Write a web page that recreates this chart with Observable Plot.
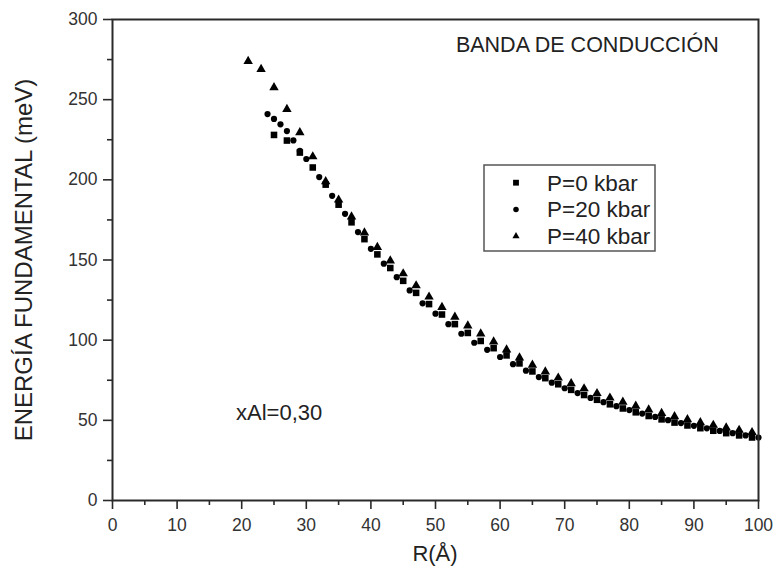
<!DOCTYPE html>
<html>
<head>
<meta charset="utf-8">
<script src="https://cdn.jsdelivr.net/npm/d3@7"></script>
<script src="https://cdn.jsdelivr.net/npm/@observablehq/plot@0.6"></script>
<style>
  html, body { margin: 0; padding: 0; background: #fff; }
</style>
</head>
<body>
<div id="chart"></div>
<script>
// P = 0 kbar (squares)
const R_p0 = [25,27,29,31,33,35,37,39,41,43,45,47,49,51,53,55,57,59,61,63,65,67,69,71,73,75,77,79,81,83,85,87,89,91,93,95,97,99];
const E_p0 = [228,224.5,217,207.7,197,184.5,173.5,163,153.5,145,137,129.5,122.5,116,110,104.5,99.5,95,90.5,85.5,80.5,76.3,72.5,69,65.8,62.8,60,57.4,55,52.7,50.6,48.6,46.8,45.1,43.5,42,40.6,39.3];
// P = 20 kbar (circles)
const R_p20 = [24,25,26,27,28,29,30,32,34,36,38,40,42,44,46,48,50,52,54,56,58,60,62,64,66,68,70,72,74,76,78,80,82,84,86,88,90,92,94,96,98,100];
const E_p20 = [241,238,234.6,230.4,224.6,218,213,201.7,190,178.8,167.4,157,147.7,139.3,131,123,116.5,110,104,98.4,94,89.5,85,81,77,73.5,70,67,64,61.3,58.8,56.4,54.2,52.1,50.1,48.3,46.6,45,43.4,42,40.6,39.3];
// P = 40 kbar (triangles)
const R_p40 = [21,23,25,27,29,31,33,35,37,39,41,43,45,47,49,51,53,55,57,59,61,63,65,67,69,71,73,75,77,79,81,83,85,87,89,91,93,95,97,99];
const E_p40 = [274,269,257.6,244,229.5,214.5,199,187.5,177,167,158,149.5,141.5,134,127,120.5,114.5,109,104,99,94,89,84.5,80.3,76.5,73,69.8,66.8,64,61.4,58.9,56.6,54.4,52.4,50.5,48.7,47,45.4,43.9,42.5];

const seriesNames = ["P=0 kbar", "P=20 kbar", "P=40 kbar"];
const xTicks = [0,10,20,30,40,50,60,70,80,90,100];
const xMinor = [5,15,25,35,45,55,65,75,85,95];
const yTicks = [0,50,100,150,200,250,300];
const yMinor = [25,75,125,175,225,275];

const toRows = (R, E) => R.map((r, i) => ({R: r, E: E[i]}));
const d0 = toRows(R_p0, E_p0);
const d20 = toRows(R_p20, E_p20);
const d40 = toRows(R_p40, E_p40);

const FONT = "'Liberation Sans', Arial, Helvetica, sans-serif";
const AX = "#2a2a2a";

const plot = Plot.plot({
  width: 775,
  height: 576,
  marginLeft: 112,
  marginRight: 17,
  marginTop: 19,
  marginBottom: 76,
  style: {fontFamily: FONT, background: "#fff", color: "#222"},
  x: {domain: [0, 100]},
  y: {domain: [0, 300]},
  marks: [
    Plot.axisX({ticks: xTicks, tickSize: 9, tickPadding: 9, fontSize: 17.5, label: null, stroke: AX, strokeWidth: 1.6, fill: "#333"}),
    Plot.axisX({ticks: xMinor, tickSize: 5, tickFormat: () => "", label: null, stroke: AX, strokeWidth: 1.6}),
    Plot.axisY({ticks: yTicks, tickSize: 9, tickPadding: 6, fontSize: 17.5, label: null, stroke: AX, strokeWidth: 1.6, fill: "#333"}),
    Plot.axisY({ticks: yMinor, tickSize: 5, tickFormat: () => "", label: null, stroke: AX, strokeWidth: 1.6}),
    Plot.dot(d40, {x: "R", y: "E", symbol: "triangle", r: 3.5, fill: "#000", stroke: "none"}),
    Plot.dot(d0, {x: "R", y: "E", symbol: "square", r: 3.7, fill: "#000", stroke: "none"}),
    Plot.dot(d20, {x: "R", y: "E", symbol: "circle", r: 3.1, fill: "#000", stroke: "none"}),
    Plot.frame({stroke: AX, strokeWidth: 2}),
    Plot.text(["BANDA DE CONDUCCIÓN"], {x: 73.5, y: 284, text: d => d, fontSize: 21.5, fill: "#222"}),
    Plot.text(["xAl=0,30"], {x: 25.8, y: 54.5, text: d => d, fontSize: 22, fill: "#222"})
  ]
});

document.getElementById("chart").appendChild(plot);

const svg = d3.select(plot);
// axis titles
svg.append("text")
  .attr("transform", "translate(32,260) rotate(-90)")
  .attr("text-anchor", "middle")
  .attr("font-family", FONT)
  .attr("font-size", 24)
  .attr("fill", "#222")
  .text("ENERGÍA FUNDAMENTAL (meV)");
svg.append("text")
  .attr("x", 435).attr("y", 561)
  .attr("text-anchor", "middle")
  .attr("font-family", FONT)
  .attr("font-size", 22)
  .attr("fill", "#222")
  .text("R(Å)");

// legend
const lg = svg.append("g");
lg.append("rect")
  .attr("x", 484).attr("y", 165).attr("width", 171).attr("height", 86)
  .attr("fill", "#fff").attr("stroke", "#555").attr("stroke-width", 1.5);
const legSyms = [d3.symbol(d3.symbolSquare, 34), d3.symbol(d3.symbolCircle, 24), d3.symbol(d3.symbolTriangle, 22)];
seriesNames.forEach((name, i) => {
  const cy = 182.7 + i * 26.7;
  lg.append("path").attr("d", legSyms[i]()).attr("transform", `translate(516,${cy})`).attr("fill", "#000");
  lg.append("text")
    .attr("x", 547).attr("y", cy + 8)
    .attr("text-anchor", "start")
    .attr("font-family", FONT).attr("font-size", 22.5).attr("fill", "#222")
    .text(name);
});
</script>
</body>
</html>
